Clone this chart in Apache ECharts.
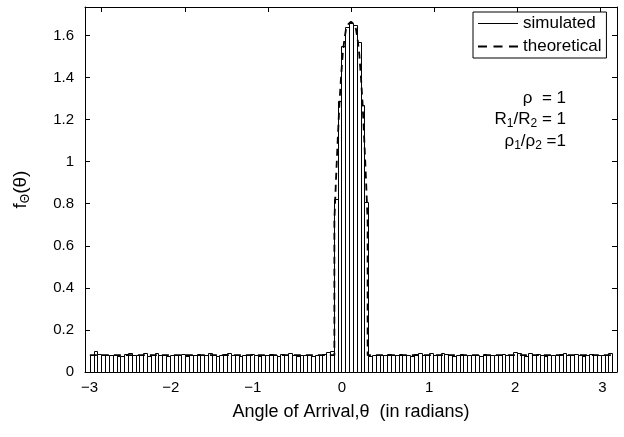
<!DOCTYPE html>
<html>
<head>
<meta charset="utf-8">
<script src="https://cdn.jsdelivr.net/npm/echarts@6/dist/echarts.min.js"></script>
<style>
  html, body { margin: 0; padding: 0; background: #fff; }
  #chart { width: 624px; height: 437px; }
</style>
</head>
<body>
<div id="chart"></div>
<script>
// histogram range (radians) and bin heights
var thetaMin = -Math.PI;
var thetaMax = Math.PI;
var counts = [
  0.080, 0.098, 0.084, 0.081, 0.079, 0.083, 0.082, 0.078, 0.076, 0.084,
  0.088, 0.080, 0.079, 0.083, 0.092, 0.078, 0.081, 0.090, 0.083, 0.080,
  0.078, 0.082, 0.081, 0.079, 0.085, 0.077, 0.082, 0.080, 0.086, 0.079,
  0.081, 0.090, 0.082, 0.077, 0.080, 0.084, 0.092, 0.079, 0.081, 0.078,
  0.083, 0.080, 0.086, 0.081, 0.077, 0.082, 0.079, 0.084, 0.080, 0.078,
  0.085, 0.082, 0.090, 0.080, 0.076, 0.081, 0.083, 0.079, 0.077, 0.082,
  0.080, 0.084, 0.093, 0.101,
  0.82, 1.29, 1.55, 1.64, 1.66, 1.65, 1.57, 1.27, 0.81,
  0.078, 0.081, 0.079, 0.083, 0.080, 0.086, 0.082, 0.079, 0.084, 0.081,
  0.080, 0.078, 0.085, 0.088, 0.082, 0.080, 0.092, 0.083, 0.081, 0.089,
  0.084, 0.080, 0.077, 0.082, 0.086, 0.079, 0.081, 0.083, 0.080, 0.078,
  0.084, 0.081, 0.079, 0.082, 0.080, 0.086, 0.083, 0.079, 0.095, 0.090,
  0.082, 0.078, 0.088, 0.081, 0.084, 0.079, 0.077, 0.083, 0.080, 0.082,
  0.086, 0.088, 0.081, 0.079, 0.084, 0.080, 0.078, 0.082, 0.085, 0.081,
  0.083, 0.080, 0.079, 0.092
];

// theoretical pdf (dashed)
var theoryX = [-3.1416, -0.20, -0.20, -0.18, -0.16, -0.14, -0.12, -0.10, -0.08, -0.06, -0.03, 0,
               0.03, 0.06, 0.08, 0.10, 0.12, 0.14, 0.16, 0.18, 0.20, 0.20, 3.1416];
var theoryY = [0.08, 0.08, 0.72, 0.92, 1.10, 1.27, 1.40, 1.51, 1.58, 1.63, 1.655, 1.665,
               1.655, 1.63, 1.58, 1.51, 1.40, 1.27, 1.10, 0.92, 0.72, 0.08, 0.08];

var xTicks = [-3, -2, -1, 0, 1, 2, 3];
var yTicks = [0, 0.2, 0.4, 0.6, 0.8, 1, 1.2, 1.4, 1.6];

(function () {
  var font = 'Liberation Sans, Arial, sans-serif';
  var chart = echarts.init(document.getElementById('chart'));

  var binW = (thetaMax - thetaMin) / counts.length;
  var barData = counts.map(function (c, i) {
    return [thetaMin + i * binW, thetaMin + (i + 1) * binW, c];
  });
  var theoryData = theoryX.map(function (x, i) { return [x, theoryY[i]]; });

  // the x tick labels sit a little left of their ticks in the original
  var xNudge = [-12, -14, -15, -9, -5, -2, 2];
  var xRich = {};
  xTicks.forEach(function (t, i) {
    var s = xNudge[i];
    xRich['t' + i] = { padding: s < 0 ? [0, -2 * s, 0, 0] : [0, 0, 0, 2 * s] };
  });

  var tickStyle = { show: true, inside: true, length: 5, lineStyle: { color: '#000' } };
  var lineStyle = { show: true, onZero: false, lineStyle: { color: '#000', width: 1 } };
  var snap = function (v) { return Math.round(v) + 0.5; };

  chart.setOption({
    animation: false,
    backgroundColor: '#fff',
    textStyle: { fontFamily: font, color: '#000' },
    grid: { left: 85, right: 7, top: 7, bottom: 65 },
    xAxis: [
      {
        type: 'value', min: -3.2, max: 3.2, position: 'bottom',
        axisLine: lineStyle,
        axisTick: Object.assign({ customValues: xTicks }, tickStyle),
        axisLabel: {
          customValues: xTicks, fontSize: 15, color: '#000', margin: 8,
          formatter: function (v) {
            var i = xTicks.indexOf(v);
            var s = v < 0 ? '\u2212' + (-v) : String(v);
            return '{t' + i + '|' + s + '}';
          },
          rich: xRich
        },
        splitLine: { show: false },
        name: 'Angle of Arrival,\u03b8  (in radians)',
        nameLocation: 'middle', nameGap: 31,
        nameTextStyle: { fontSize: 18, color: '#000' }
      },
      {
        type: 'value', min: -3.2, max: 3.2, position: 'top',
        axisLine: lineStyle,
        axisTick: Object.assign({ customValues: xTicks }, tickStyle),
        axisLabel: { show: false },
        splitLine: { show: false }
      }
    ],
    yAxis: [
      {
        type: 'value', min: 0, max: 1.735, position: 'left',
        axisLine: lineStyle,
        axisTick: Object.assign({ customValues: yTicks }, tickStyle),
        axisLabel: { customValues: yTicks, fontSize: 15, color: '#000', margin: 11 },
        splitLine: { show: false },
        name: '{n|f}{s|\u0398}{n|(\u03b8)}',
        nameLocation: 'middle', nameGap: 53,
        nameTextStyle: {
          color: '#000',
          rich: {
            n: { fontSize: 19, color: '#000' },
            s: { fontSize: 12, color: '#000', padding: [10, 0, 0, 0] }
          }
        }
      },
      {
        type: 'value', min: 0, max: 1.735, position: 'right',
        axisLine: lineStyle,
        axisTick: Object.assign({ customValues: yTicks }, tickStyle),
        axisLabel: { show: false },
        splitLine: { show: false }
      }
    ],
    legend: {
      orient: 'vertical', left: 473, top: 12,
      backgroundColor: '#fff',
      borderColor: '#000', borderWidth: 1, borderRadius: 0,
      padding: [3, 5, 3, 5],
      itemWidth: 40, itemHeight: 12, itemGap: 6, itemTextGap: 3,
      itemStyle: { color: '#000', borderWidth: 0 },
      textStyle: { fontSize: 17, color: '#000', fontFamily: font },
      data: [
        { name: 'simulated', icon: 'path://M0,0M40,12M0,5.4H40V6.6H0Z' },
        { name: 'theoretical', icon: 'path://M0,0M40,12M0,5H9V7H0ZM15.5,5H24.5V7H15.5ZM31,5H40V7H31Z' }
      ],
      z: 10
    },
    graphic: [
      {
        type: 'text', right: 58, top: 90, z: 10,
        style: { text: '\u03c1  = 1', fontSize: 17, fontFamily: font, fill: '#000' }
      },
      {
        type: 'text', right: 58, top: 111, z: 10,
        style: {
          text: '{n|R}{s|1}{n|/R}{s|2}{n| = 1}', fontFamily: font, fill: '#000',
          rich: { n: { fontSize: 17 }, s: { fontSize: 12, padding: [8, 0, 0, 0] } }
        }
      },
      {
        type: 'text', right: 58, top: 133, z: 10,
        style: {
          text: '{n|\u03c1}{s|1}{n|/\u03c1}{s|2}{n| =1}', fontFamily: font, fill: '#000',
          rich: { n: { fontSize: 17 }, s: { fontSize: 12, padding: [8, 0, 0, 0] } }
        }
      }
    ],
    series: [
      {
        name: 'simulated',
        type: 'custom',
        data: barData,
        encode: { x: [0, 1], y: 2 },
        itemStyle: { color: '#000' },
        z: 2,
        renderItem: function (params, api) {
          var top = api.coord([api.value(0), api.value(2)]);
          var base = api.coord([api.value(1), 0]);
          var x0 = snap(top[0]), x1 = snap(base[0]);
          var y0 = snap(top[1]), y1 = snap(base[1]);
          return {
            type: 'rect',
            shape: { x: x0, y: y0, width: x1 - x0, height: y1 - y0 },
            style: { fill: '#fff', stroke: '#000', lineWidth: 1 }
          };
        }
      },
      {
        name: 'theoretical',
        type: 'line',
        data: theoryData,
        symbol: 'none',
        itemStyle: { color: '#000' },
        lineStyle: { color: '#000', width: 1.8, type: [7, 5] },
        z: 3
      }
    ]
  });

  window.addEventListener('resize', function () { chart.resize(); });
})();
</script>
</body>
</html>
